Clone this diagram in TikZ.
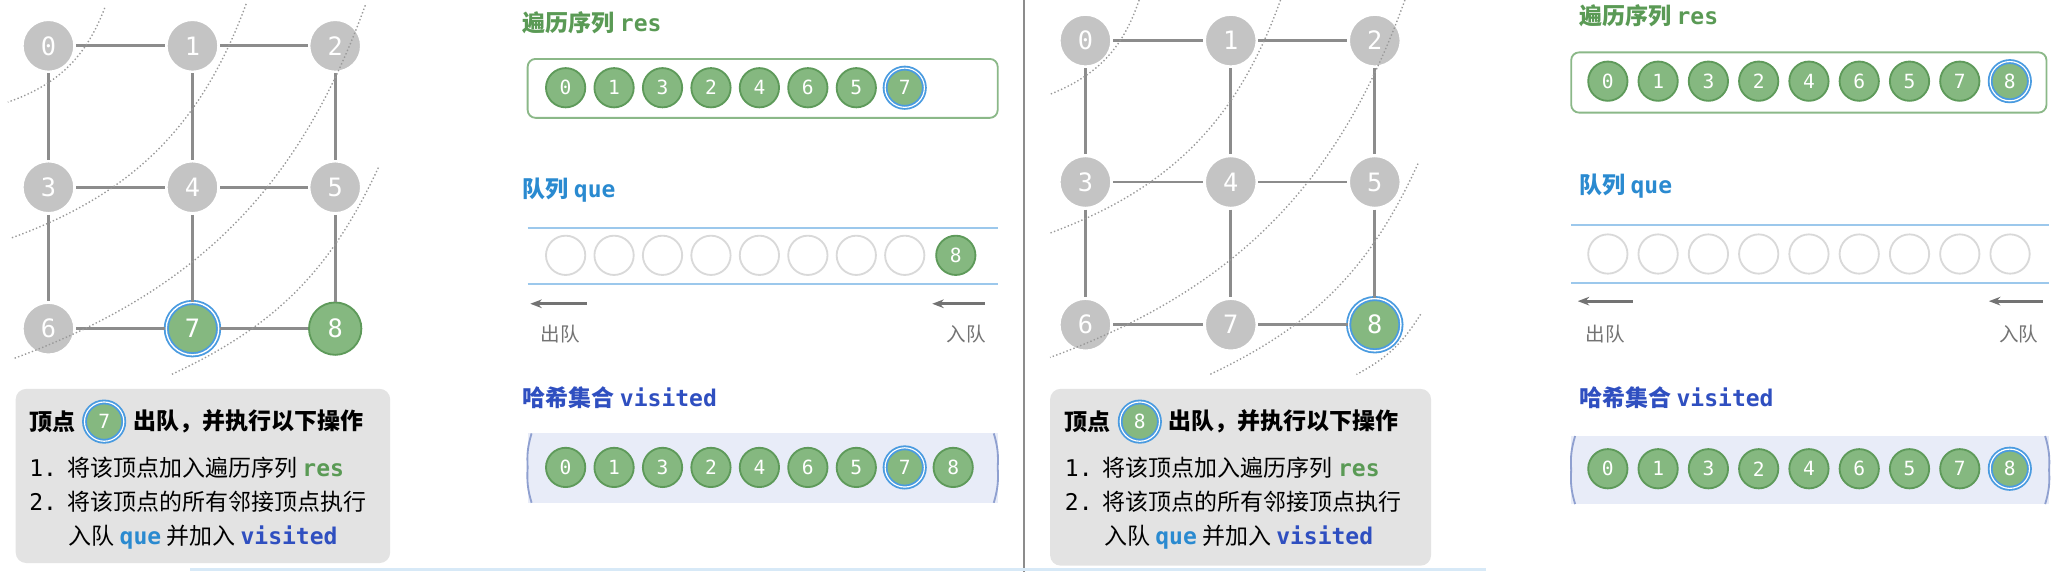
\documentclass[tikz,border=0pt]{standalone}
\usepackage{fontspec}
\setmainfont{Noto Sans CJK SC}
\setmonofont{DejaVu Sans Mono}
\usetikzlibrary{positioning,arrows.meta}
\definecolor{nodegray}{HTML}{C4C4C4}
\definecolor{edgegray}{HTML}{8C8C8C}
\definecolor{vgreen}{HTML}{85B880}
\definecolor{vgreenline}{HTML}{5E9A5A}
\definecolor{ringblue}{HTML}{4A9BE0}
\definecolor{resgreen}{HTML}{5A9A55}
\definecolor{queblue}{HTML}{2A8AD0}
\definecolor{visblue}{HTML}{2F4FC0}
\definecolor{qline}{HTML}{9CC8EC}
\definecolor{visfill}{HTML}{E8ECF8}
\definecolor{visline}{HTML}{8FA0D0}
\definecolor{infofill}{HTML}{E3E3E3}
\tikzset{
  gnode/.style={circle,fill=nodegray,draw=white,line width=1.2pt,minimum size=40\pxu,inner sep=0pt,
    text=white,font=\ttfamily\fontsize{11}{11}\selectfont},
  vnode/.style={gnode,fill=vgreen,draw=vgreenline,line width=0.8pt},
  ringnode/.style={vnode,draw=ringblue,double=white,double distance=0.6pt,line width=0.8pt},
  snode/.style={circle,fill=vgreen,draw=vgreenline,line width=0.8pt,minimum size=30\pxu,inner sep=0pt,
    text=white,font=\ttfamily\fontsize{8.5}{8.5}\selectfont},
  sring/.style={snode,draw=ringblue,double=white,double distance=0.5pt},
  qnode/.style={circle,draw=black!15,line width=0.8pt,minimum size=30\pxu,inner sep=0pt},
  edge/.style={edgegray,line width=1.3pt},
  layer/.style={black!40,densely dotted,line width=0.6pt},
  title/.style={anchor=west,font=\bfseries\fontsize{10}{12}\selectfont},
  txt/.style={anchor=west,font=\fontsize{10}{12}\selectfont,inner sep=0pt},
  small/.style={font=\fontsize{8.5}{10}\selectfont,text=black!55},
  qarrow/.style={-{Stealth[length=5pt]},black!55,line width=1.3pt}
}
\newlength{\pxu}\setlength{\pxu}{0.02cm}
\newcommand{\code}[2]{\textcolor{#1}{\ttfamily\bfseries #2}}

\begin{document}
\begin{tikzpicture}[x=0.02cm,y=-0.02cm]
\useasboundingbox (0,0) rectangle (1568,437);

% left panel: graph
\foreach \i/\x/\y in {0/37/35,1/147/35,2/256/35,3/37/143,4/147/143,5/256/143,6/37/251}
  \node[gnode] (L\i) at (\x,\y) {\i};
\node[ringnode] (L7) at (147,251) {7};
\node[vnode] (L8) at (256,251) {8};
\foreach \a/\b in {0/1,1/2,3/4,4/5,6/7,7/8,0/3,3/6,1/4,4/7,2/5,5/8}
  \draw[edge] (L\a) -- (L\b);
\draw[layer] (80,6) to[bend left=25] (6,78);
\draw[layer] (188,3) to[bend left=25] (8,182);
\draw[layer] (279,4) to[bend left=25] (10,274);
\draw[layer] (289,128) to[bend left=20] (131,286);

% left panel: info box
\fill[infofill,rounded corners=8\pxu] (12,297) rectangle (298,430);
\node[txt,font=\bfseries\fontsize{10}{12}\selectfont] (Lh1) at (22,322) {顶点};
\node[sring,right=6\pxu of Lh1] (Lhv) {7};
\node[txt,font=\bfseries\fontsize{10}{12}\selectfont,right=6\pxu of Lhv] (Lh2) {出队，并执行以下操作};
\node[txt] (Ll1) at (22,357) {\texttt{1.}\ \ 将该顶点加入遍历序列 \code{resgreen}{res}};
\node[txt] (Ll2) at (22,383) {\texttt{2.}\ \ 将该顶点的所有邻接顶点执行};
\node[txt] (Ll3) at (52,410) {入队 \code{queblue}{que} 并加入 \code{visblue}{visited}};

% left panel: res
\node[title,text=resgreen] (Lres) at (393,17) {遍历序列 \ttfamily res};
\draw[resgreen!70,line width=0.8pt,rounded corners=6\pxu] (403,45) rectangle (762,90);
\foreach \v [count=\k from 0] in {0,1,3,2,4,6,5}
  \node[snode] (Lr\k) at ({432+37*\k},67) {\v};
\node[sring] (Lr7) at (691,67) {7};

% left panel: que
\node[title,text=queblue] (Lque) at (393,145) {队列 \ttfamily que};
\draw[qline,line width=0.8pt] (403,174) -- (762,174) (403,217) -- (762,217);
\foreach \k in {0,...,7}
  \node[qnode] (Lq\k) at ({432+37*\k},195) {};
\node[snode] (Lq8) at (730,195) {8};
\coordinate (Lo1) at (448,232); \coordinate (Lo2) at (405,232);
\coordinate (Li1) at (752,232); \coordinate (Li2) at (712,232);
\draw[qarrow] (Lo1) -- (Lo2);
\draw[qarrow] (Li1) -- (Li2);
\node[small] (Lout) at (428,255) {出队};
\node[small] (Lin) at (738,255) {入队};

% left panel: visited
\node[title,text=visblue] (Lvis) at (393,304) {哈希集合 \ttfamily visited};
\fill[visfill] (403,331) rectangle (762,384);
\draw[visline,line width=0.8pt] (406,331) to[bend right=10] (403,357) to[bend right=10] (406,384);
\draw[visline,line width=0.8pt] (759,331) to[bend left=10] (762,357) to[bend left=10] (759,384);
\foreach \v [count=\k from 0] in {0,1,3,2,4,6,5}
  \node[snode] (Lv\k) at ({432+37*\k},357) {\v};
\node[sring] (Lv7) at (691,357) {7};
\node[snode] (Lv8) at (728,357) {8};

% divider
\draw[black!45,line width=0.8pt] (782,0) -- (782,437);
\draw[qline!40,line width=1.5pt] (145,435) -- (1135,435);

% right panel: graph
\foreach \i/\x/\y in {0/829/31,1/940/31,2/1050/31,3/829/139,4/940/139,5/1050/139,6/829/248,7/940/248}
  \node[gnode] (R\i) at (\x,\y) {\i};
\node[ringnode] (R8) at (1050,248) {8};
\foreach \a/\b in {0/1,1/2,3/4,4/5,6/7,7/8,0/3,3/6,1/4,4/7,2/5,5/8}
  \draw[edge] (R\a) -- (R\b);
\draw[layer] (870,0) to[bend left=25] (802,72);
\draw[layer] (978,0) to[bend left=25] (802,178);
\draw[layer] (1073,0) to[bend left=25] (802,273);
\draw[layer] (1083,125) to[bend left=20] (924,286);
\draw[layer] (1085,240) to[bend left=15] (1036,286);

% right panel: info box
\fill[infofill,rounded corners=8\pxu] (802,297) rectangle (1093,432);
\node[txt,font=\bfseries\fontsize{10}{12}\selectfont] (Rh1) at (813,322) {顶点};
\node[sring,right=6\pxu of Rh1] (Rhv) {8};
\node[txt,font=\bfseries\fontsize{10}{12}\selectfont,right=6\pxu of Rhv] (Rh2) {出队，并执行以下操作};
\node[txt] (Rl1) at (813,357) {\texttt{1.}\ \ 将该顶点加入遍历序列 \code{resgreen}{res}};
\node[txt] (Rl2) at (813,383) {\texttt{2.}\ \ 将该顶点的所有邻接顶点执行};
\node[txt] (Rl3) at (843,410) {入队 \code{queblue}{que} 并加入 \code{visblue}{visited}};

% right panel: res
\node[title,text=resgreen] (Rres) at (1200,12) {遍历序列 \ttfamily res};
\draw[resgreen!70,line width=0.8pt,rounded corners=6\pxu] (1200,40) rectangle (1563,86);
\foreach \v [count=\k from 0] in {0,1,3,2,4,6,5,7}
  \node[snode] (Rr\k) at ({1228+38.4*\k},62) {\v};
\node[sring] (Rr8) at (1535,62) {8};

% right panel: que
\node[title,text=queblue] (Rque) at (1200,142) {队列 \ttfamily que};
\draw[qline,line width=0.8pt] (1200,172) -- (1565,172) (1200,216) -- (1565,216);
\foreach \k in {0,...,8}
  \node[qnode] (Rq\k) at ({1228+38.4*\k},194) {};
\coordinate (Ro1) at (1247,230); \coordinate (Ro2) at (1205,230);
\coordinate (Ri1) at (1560,230); \coordinate (Ri2) at (1519,230);
\draw[qarrow] (Ro1) -- (Ro2);
\draw[qarrow] (Ri1) -- (Ri2);
\node[small] (Rout) at (1226,255) {出队};
\node[small] (Rin) at (1542,255) {入队};

% right panel: visited
\node[title,text=visblue] (Rvis) at (1200,304) {哈希集合 \ttfamily visited};
\fill[visfill] (1200,333) rectangle (1565,385);
\draw[visline,line width=0.8pt] (1203,333) to[bend right=10] (1200,359) to[bend right=10] (1203,385);
\draw[visline,line width=0.8pt] (1562,333) to[bend left=10] (1565,359) to[bend left=10] (1562,385);
\foreach \v [count=\k from 0] in {0,1,3,2,4,6,5,7}
  \node[snode] (Rv\k) at ({1228+38.4*\k},358) {\v};
\node[sring] (Rv8) at (1535,358) {8};
\end{tikzpicture}
\end{document}
